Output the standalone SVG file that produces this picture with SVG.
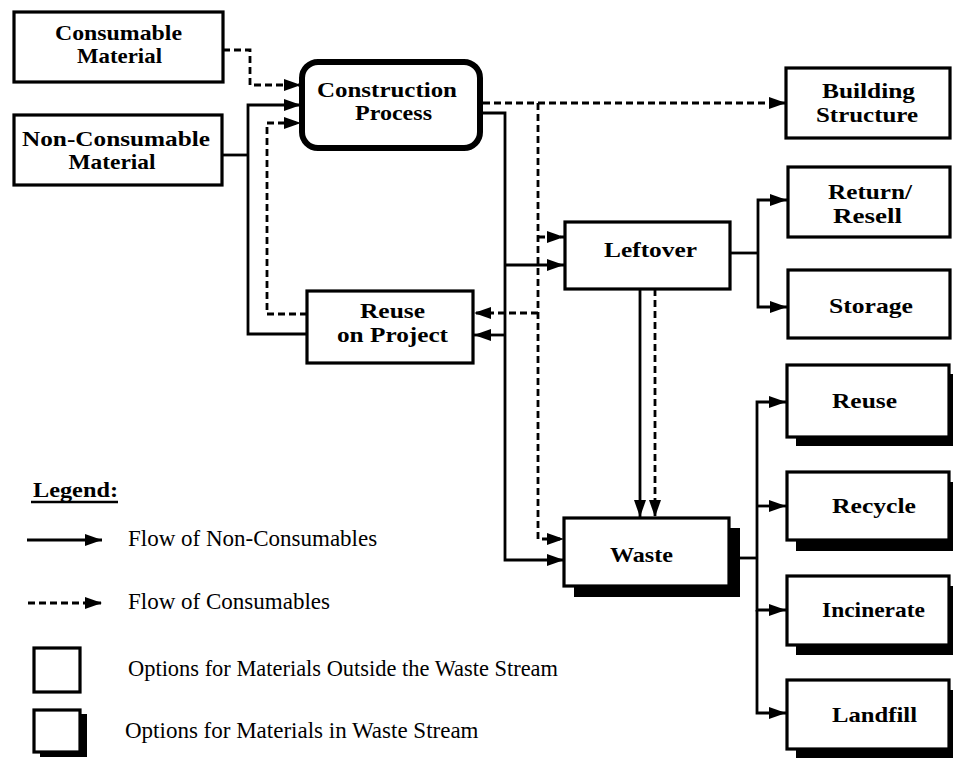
<svg xmlns="http://www.w3.org/2000/svg" width="953" height="758" viewBox="0 0 953 758">
<defs>
<style>
.box{fill:#fff;stroke:#000;stroke-width:3.2}
.proc{fill:#fff;stroke:#000;stroke-width:6}
.shadow{fill:#000}
.lbl{font-family:"Liberation Serif","Times New Roman",serif;font-weight:bold;font-size:22px;fill:#000;text-anchor:middle}
.leg{font-family:"Liberation Serif","Times New Roman",serif;font-size:23px;fill:#000}
.solid{fill:none;stroke:#000;stroke-width:2.8}
.dash{fill:none;stroke:#000;stroke-width:2.8;stroke-dasharray:7 4}
</style>
<marker id="ah" markerUnits="userSpaceOnUse" viewBox="0 0 17 12" refX="17" refY="6" markerWidth="17" markerHeight="12" orient="auto">
<path d="M0,0 L17,6 L0,12 z" fill="#000"/>
</marker>
</defs>
<rect width="953" height="758" fill="#fff"/>

<g id="connectors">
<path class="dash" d="M223,50 H250 V85 H301" marker-end="url(#ah)"/>
<path class="solid" d="M222,155 H248"/>
<path class="solid" d="M307,334 H248 V105 H301" marker-end="url(#ah)"/>
<path class="dash" d="M307,314 H267 V123 H301" marker-end="url(#ah)"/>
<path class="dash" d="M483,103 H786" marker-end="url(#ah)"/>
<path class="dash" d="M538,103 V539 H564" marker-end="url(#ah)"/>
<path class="dash" d="M538,237 H564" marker-end="url(#ah)"/>
<path class="dash" d="M538,313 H474" marker-end="url(#ah)"/>
<path class="solid" d="M483,113 H505 V560 H564" marker-end="url(#ah)"/>
<path class="solid" d="M505,265 H564" marker-end="url(#ah)"/>
<path class="solid" d="M505,335 H474" marker-end="url(#ah)"/>
<path class="solid" d="M640,289 V517" marker-end="url(#ah)"/>
<path class="dash" d="M655,289 V517" marker-end="url(#ah)"/>
<path class="solid" d="M730,253 H758"/>
<path class="solid" d="M758,253 V200 H787" marker-end="url(#ah)"/>
<path class="solid" d="M758,253 V307 H787" marker-end="url(#ah)"/>
<path class="solid" d="M740,558 H757"/>
<path class="solid" d="M757,558 V402 H786" marker-end="url(#ah)"/>
<path class="solid" d="M757,506 H786" marker-end="url(#ah)"/>
<path class="solid" d="M757,558 V610 H786" marker-end="url(#ah)"/>
<path class="solid" d="M757,610 V713 H786" marker-end="url(#ah)"/>
</g>

<g id="consumable">
<rect class="box" x="14" y="12" width="209" height="70"/>
<text class="lbl" x="118.5" y="40" textLength="127" lengthAdjust="spacingAndGlyphs">Consumable</text>
<text class="lbl" x="119.5" y="63" textLength="85" lengthAdjust="spacingAndGlyphs">Material</text>
</g>
<g id="nonconsumable">
<rect class="box" x="14" y="115" width="208" height="70"/>
<text class="lbl" x="116" y="146" textLength="188" lengthAdjust="spacingAndGlyphs">Non-Consumable</text>
<text class="lbl" x="112" y="169" textLength="87" lengthAdjust="spacingAndGlyphs">Material</text>
</g>
<g id="construction">
<rect class="proc" x="302" y="62" width="178" height="86" rx="16"/>
<text class="lbl" x="387" y="97" textLength="140" lengthAdjust="spacingAndGlyphs">Construction</text>
<text class="lbl" x="393.5" y="120" textLength="77" lengthAdjust="spacingAndGlyphs">Process</text>
</g>
<g id="building">
<rect class="box" x="786" y="68" width="164" height="70"/>
<text class="lbl" x="868.5" y="98" textLength="93" lengthAdjust="spacingAndGlyphs">Building</text>
<text class="lbl" x="867" y="122" textLength="102" lengthAdjust="spacingAndGlyphs">Structure</text>
</g>
<g id="leftover">
<rect class="box" x="565" y="222" width="165" height="67"/>
<text class="lbl" x="650.5" y="257" textLength="93" lengthAdjust="spacingAndGlyphs">Leftover</text>
</g>
<g id="reuse-project">
<rect class="box" x="307" y="291" width="166" height="72"/>
<text class="lbl" x="392.5" y="318" textLength="65" lengthAdjust="spacingAndGlyphs">Reuse</text>
<text class="lbl" x="392.5" y="342" textLength="111" lengthAdjust="spacingAndGlyphs">on Project</text>
</g>
<g id="return">
<rect class="box" x="788" y="167" width="162" height="70"/>
<text class="lbl" x="870" y="199" textLength="84" lengthAdjust="spacingAndGlyphs">Return/</text>
<text class="lbl" x="867.5" y="223" textLength="69" lengthAdjust="spacingAndGlyphs">Resell</text>
</g>
<g id="storage">
<rect class="box" x="788" y="270" width="162" height="68"/>
<text class="lbl" x="871" y="313" textLength="84" lengthAdjust="spacingAndGlyphs">Storage</text>
</g>
<g id="waste">
<rect class="shadow" x="574" y="528" width="166" height="69"/>
<rect class="box" x="564" y="518" width="165" height="68"/>
<text class="lbl" x="641.5" y="562" textLength="63" lengthAdjust="spacingAndGlyphs">Waste</text>
</g>
<g id="reuse">
<rect class="shadow" x="796" y="374" width="162" height="72"/>
<rect class="box" x="787" y="365" width="162" height="72"/>
<text class="lbl" x="864.5" y="408" textLength="65" lengthAdjust="spacingAndGlyphs">Reuse</text>
</g>
<g id="recycle">
<rect class="shadow" x="796" y="482" width="162" height="69"/>
<rect class="box" x="787" y="472" width="162" height="68"/>
<text class="lbl" x="874" y="513" textLength="84" lengthAdjust="spacingAndGlyphs">Recycle</text>
</g>
<g id="incinerate">
<rect class="shadow" x="796" y="586" width="162" height="69"/>
<rect class="box" x="787" y="576" width="162" height="69"/>
<text class="lbl" x="873.5" y="617" textLength="103" lengthAdjust="spacingAndGlyphs">Incinerate</text>
</g>
<g id="landfill">
<rect class="shadow" x="796" y="690" width="162" height="68"/>
<rect class="box" x="787" y="680" width="162" height="69"/>
<text class="lbl" x="874.5" y="722" textLength="85" lengthAdjust="spacingAndGlyphs">Landfill</text>
</g>

<g id="legend">
<text x="33" y="497" style="font-family:'Liberation Serif','Times New Roman',serif;font-weight:bold;font-size:22px" textLength="85" lengthAdjust="spacingAndGlyphs">Legend:</text>
<line x1="31" y1="502" x2="118" y2="502" stroke="#000" stroke-width="2.5"/>
<path class="solid" d="M27,540 H102" marker-end="url(#ah)"/>
<text class="leg" x="128" y="546">Flow of Non-Consumables</text>
<path class="dash" d="M28,603 H102" marker-end="url(#ah)"/>
<text class="leg" x="128" y="609" textLength="202" lengthAdjust="spacingAndGlyphs">Flow of Consumables</text>
<rect class="box" x="34" y="648" width="46" height="44"/>
<text class="leg" x="128" y="676" textLength="430" lengthAdjust="spacingAndGlyphs">Options for Materials Outside the Waste Stream</text>
<rect class="shadow" x="40" y="714" width="47" height="43"/>
<rect class="box" x="34" y="710" width="46" height="42"/>
<text class="leg" x="125" y="738">Options for Materials in Waste Stream</text>
</g>
</svg>
